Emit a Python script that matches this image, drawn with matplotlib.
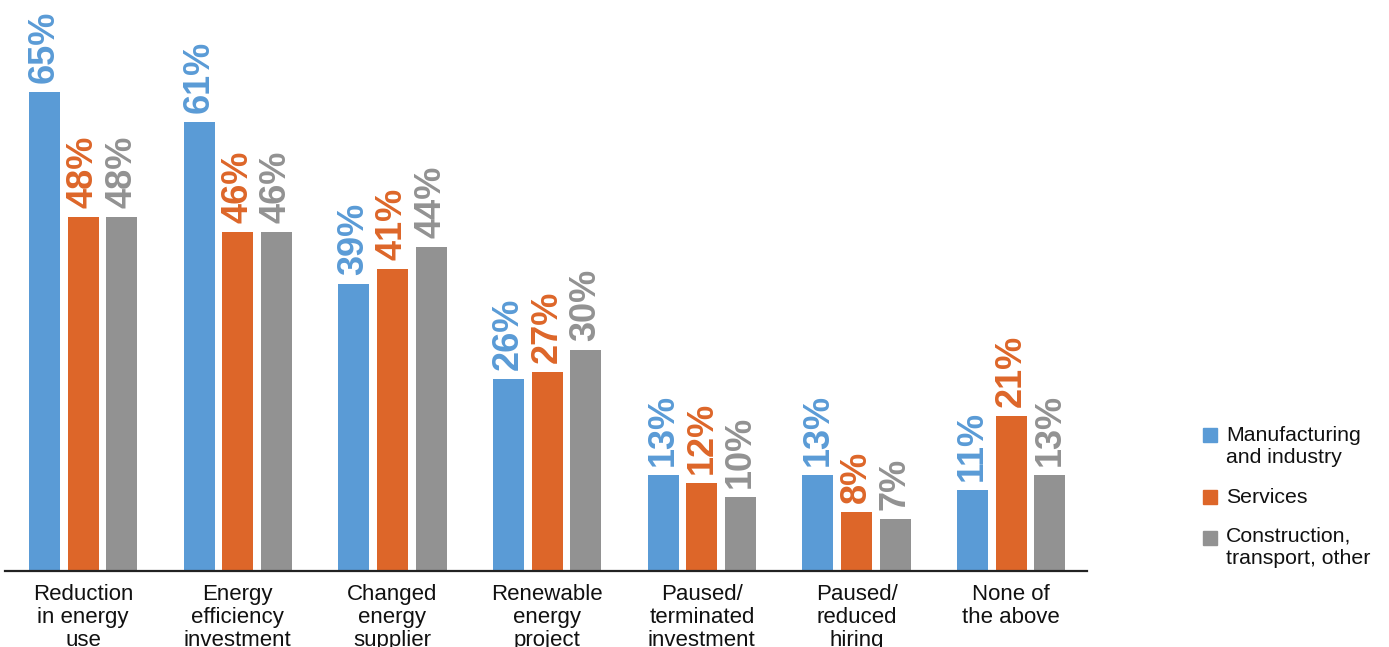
import matplotlib
matplotlib.use("Agg")
import matplotlib.pyplot as plt
from matplotlib.patches import Rectangle
import numpy as np

categories = ["Reduction\nin energy\nuse", "Energy\nefficiency\ninvestment", "Changed\nenergy\nsupplier",
              "Renewable\nenergy\nproject", "Paused/\nterminated\ninvestment", "Paused/\nreduced\nhiring",
              "None of\nthe above"]
series_names = ["Manufacturing\nand industry", "Services", "Construction,\ntransport, other"]
manufacturing = [65, 61, 39, 26, 13, 13, 11]
services = [48, 46, 41, 27, 12, 8, 21]
construction = [48, 46, 44, 30, 10, 7, 13]
colors = ["#5A9BD6", "#DD6629", "#929292"]

base = "Liberation Sans"

W, H = 1389, 647
fig = plt.figure(figsize=(W / 100, H / 100), dpi=100)
ax = fig.add_axes([5 / W, 76 / H, 1082 / W, 571 / H])

x = np.arange(len(categories))
offsets = [-0.25, 0.0, 0.25]
width = 0.2
for vals, off, c in zip([manufacturing, services, construction], offsets, colors):
    bars = ax.bar(x + off, vals, width=width, color=c, zorder=2)
    for b, v in zip(bars, vals):
        ax.annotate(f"{v}%", (b.get_x() + b.get_width() / 2, v), xytext=(0, 6.5),
                    textcoords="offset points", rotation=90, ha="center", va="bottom",
                    fontsize=26, fontweight="bold", color=c, family=base,
                    annotation_clip=False)

ax.set_xlim(-0.505, 6.49)
ax.set_ylim(0, 77.5)
for s in ["top", "right", "left"]:
    ax.spines[s].set_visible(False)
ax.spines["bottom"].set_linewidth(1.6)
ax.spines["bottom"].set_color("#222222")
ax.set_yticks([])
ax.set_xticks(x)
ax.set_xticklabels(categories, fontsize=16, family=base, color="#111111", linespacing=1.12, va="top")
ax.tick_params(axis="x", length=0, pad=9.5)

# legend drawn manually
leg_items = [(435, 428), (497, 490), (538, 529)]
for (sq_c, ty), name, c in zip(leg_items, series_names, colors):
    fig.patches.append(Rectangle((1203 / W, 1 - (sq_c + 7) / H), 14 / W, 14 / H,
                                 transform=fig.transFigure, color=c, figure=fig))
    fig.text(1226 / W, 1 - (ty - 2) / H, name, fontsize=15.3, family=base, color="#111111",
             va="top", ha="left", linespacing=1.22)

fig.savefig("out.png", dpi=100)
